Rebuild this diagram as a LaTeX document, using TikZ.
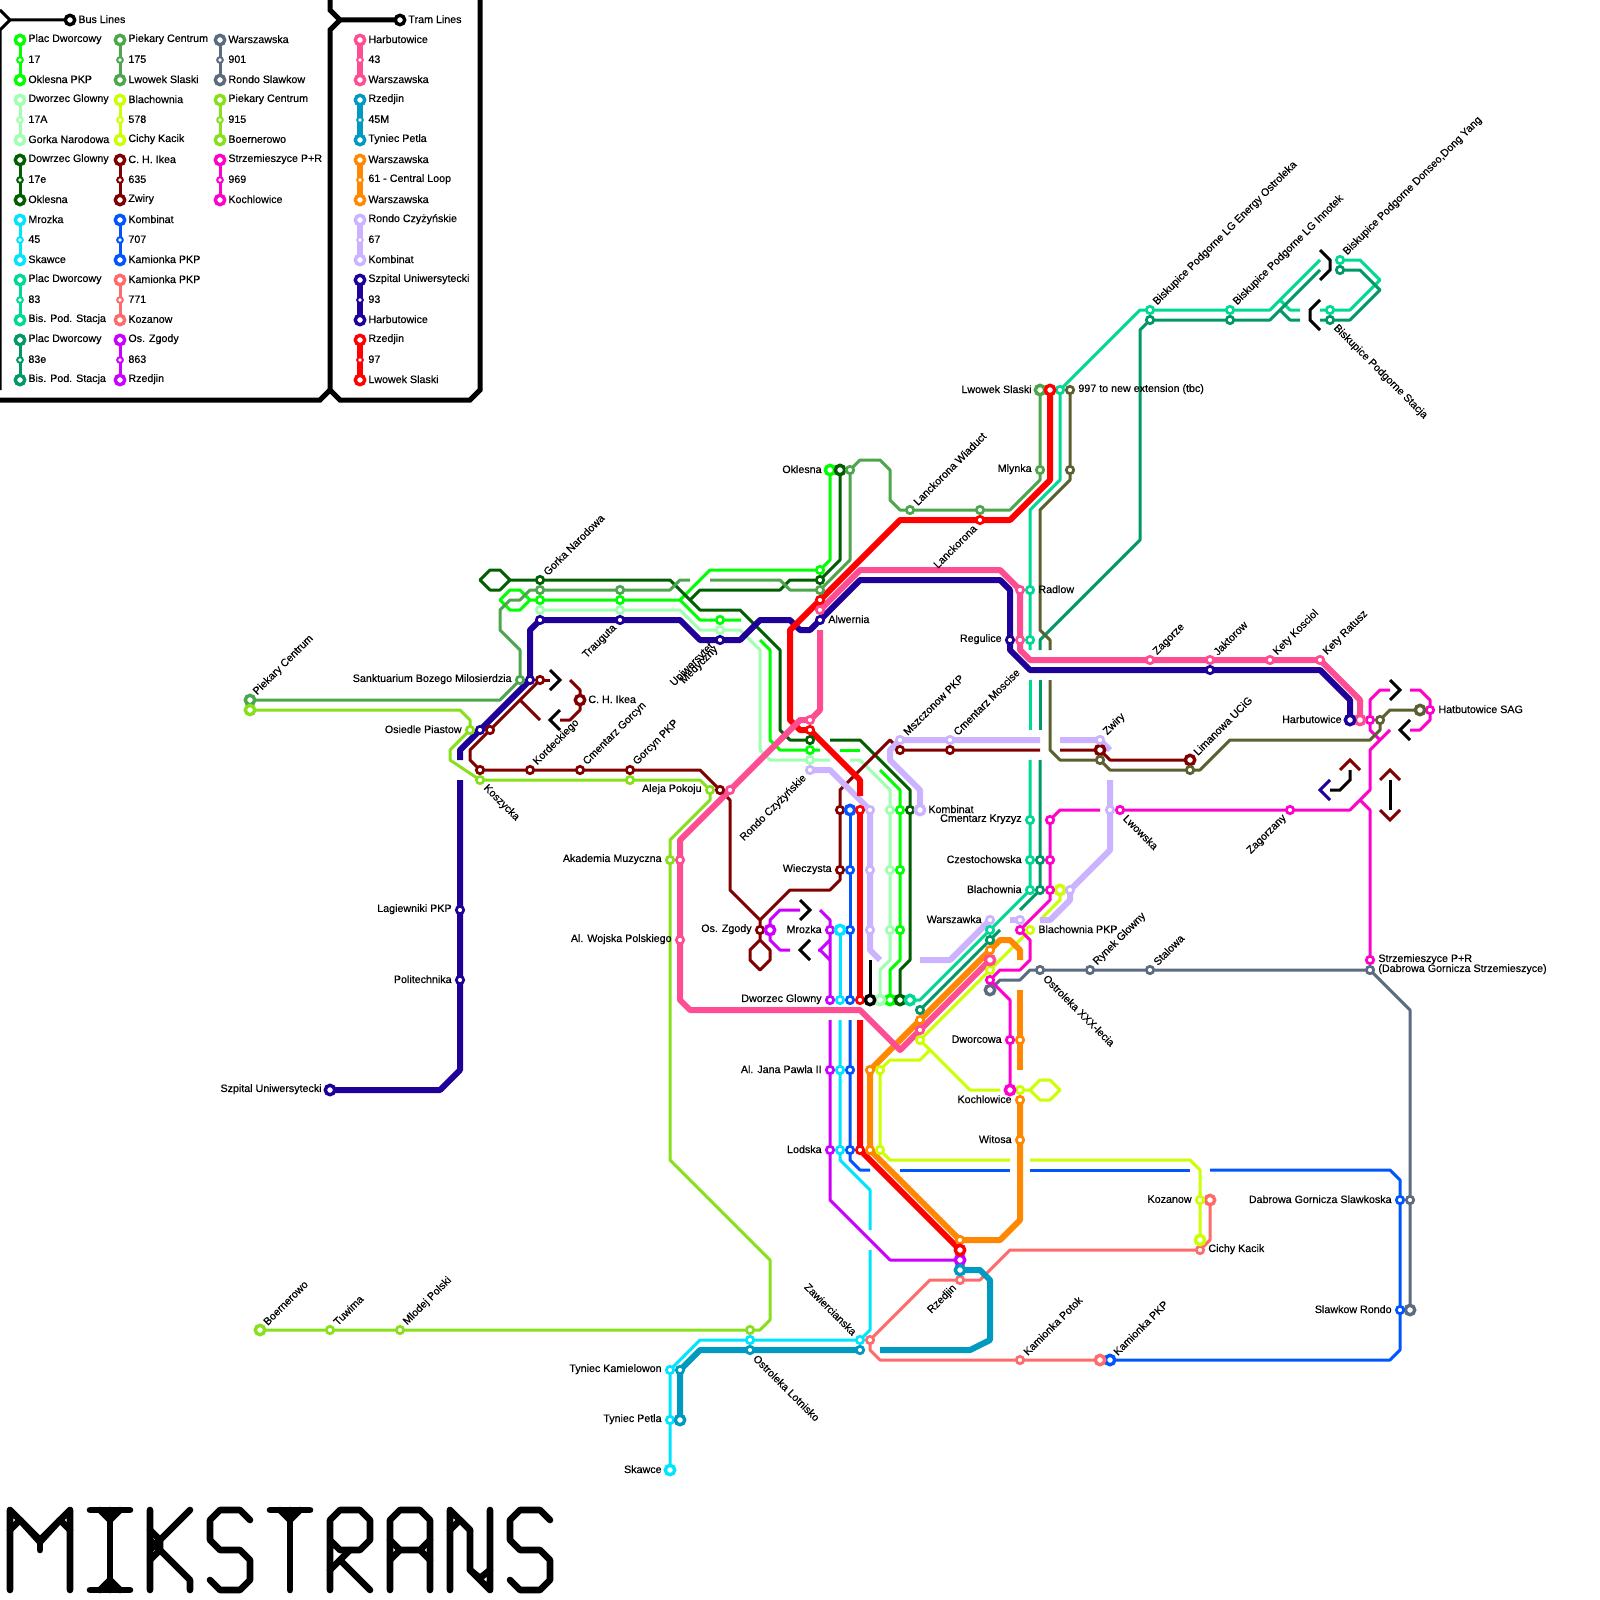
\documentclass[tikz,border=0pt]{standalone}
\usepackage{fontspec}
\newfontface\lbf{Liberation Sans}[FakeBold=0.4]
\pgfdeclarelayer{bg}
\pgfsetlayers{bg,main}
\definecolor{cA}{HTML}{00FF00}
\definecolor{cB}{HTML}{A0FFB0}
\definecolor{cC}{HTML}{006000}
\definecolor{cD}{HTML}{00E5FF}
\definecolor{cE}{HTML}{00D995}
\definecolor{cF}{HTML}{009966}
\definecolor{cG}{HTML}{4CA64C}
\definecolor{cH}{HTML}{CCFF00}
\definecolor{cI}{HTML}{800000}
\definecolor{cJ}{HTML}{0055FF}
\definecolor{cK}{HTML}{FF6B6B}
\definecolor{cL}{HTML}{CC00FF}
\definecolor{cM}{HTML}{5B6B80}
\definecolor{cN}{HTML}{88E01C}
\definecolor{cO}{HTML}{FF00CC}
\definecolor{cP}{HTML}{FF4D94}
\definecolor{cQ}{HTML}{0099BF}
\definecolor{cR}{HTML}{FF8800}
\definecolor{cS}{HTML}{CCB3FF}
\definecolor{cT}{HTML}{1F0099}
\definecolor{cU}{HTML}{FF0000}
\definecolor{cV}{HTML}{5C6030}
\tikzset{
 bus/.style={line width=1.5pt,line join=round},
 tram/.style={line width=3pt,line join=round},
 frame/.style={line width=2.5pt,line join=miter,black},
 chev/.style={line width=1.5pt,line join=miter},
 stn/.style={circle,fill=white,inner sep=0pt,outer sep=0pt,minimum size=3.7pt,line width=1.35pt},
 stb/.style={circle,fill=white,inner sep=0pt,outer sep=0pt,minimum size=4.7pt,line width=1.7pt},
 stl/.style={circle,fill=white,inner sep=0pt,outer sep=0pt,minimum size=2.8pt,line width=1pt},
 lbl/.style={font=\lbf\fontsize{5.35}{5}\selectfont,inner sep=0pt,black},
 le/.style={lbl,anchor=east,xshift=-4pt,yshift=.4pt},
 ri/.style={lbl,anchor=west,xshift=4pt,yshift=.4pt},
 upr/.style={lbl,rotate=45,anchor=west,xshift=4pt,yshift=.5pt},
 dnl/.style={lbl,rotate=45,anchor=east,xshift=-4pt,yshift=-.5pt},
 dnr/.style={lbl,rotate=-45,anchor=west,xshift=4pt,yshift=-.5pt},
 upl/.style={lbl,rotate=-45,anchor=east,xshift=-4pt,yshift=.5pt},
 ttl/.style={line width=3.3pt,line cap=round,line join=round,black},
}
\newcommand{\stA}[3]{\node[stn,draw=#3] (#1) at (#2) {};}
\newcommand{\stB}[3]{\node[stb,draw=#3] (#1) at (#2) {};}
% legend entry: id, x, first-row y, colour, line style, three texts
\newcommand{\lgd}[8]{%
 \pgfmathsetmacro{\ya}{#3}\pgfmathsetmacro{\yb}{#3+20}\pgfmathsetmacro{\yc}{#3+40}%
 \node[stb,draw=#4] (#1a) at (#2,\ya) {};
 \node[stl,draw=#4] (#1b) at (#2,\yb) {};
 \node[stb,draw=#4] (#1c) at (#2,\yc) {};
 \node[ri] (#1x) at (#1a) {#6};
 \node[ri] (#1y) at (#1b) {#7};
 \node[ri] (#1z) at (#1c) {#8};
 \begin{pgfonlayer}{bg}\draw[#5,#4] (#1a) -- (#1b) -- (#1c);\end{pgfonlayer}%
}
\begin{document}
\begin{tikzpicture}[x=0.5pt,y=-0.5pt]
\useasboundingbox (0,0) rectangle (1600,1600);
\begin{pgfonlayer}{bg}
\fill[white] (0,0) rectangle (1600,1600);
\end{pgfonlayer}
% ---------- legend
\node[stb,draw=black] (lbus) at (70,20) {};
\node[ri] (lbust) at (lbus) {Bus Lines};
\node[stb,draw=black] (ltram) at (400,20) {};
\node[ri] (ltramt) at (ltram) {Tram Lines};
\lgd{la}{20}{40}{cA}{bus}{Plac Dworcowy}{17}{Oklesna PKP}
\lgd{lb}{20}{100}{cB}{bus}{Dworzec Glowny}{17A}{Gorka Narodowa}
\lgd{lc}{20}{160}{cC}{bus}{Dowrzec Glowny}{17e}{Oklesna}
\lgd{ld}{20}{220}{cD}{bus}{Mrozka}{45}{Skawce}
\lgd{le}{20}{280}{cE}{bus}{Plac Dworcowy}{83}{Bis. Pod. Stacja}
\lgd{lf}{20}{340}{cF}{bus}{Plac Dworcowy}{83e}{Bis. Pod. Stacja}
\lgd{lg}{120}{40}{cG}{bus}{Piekary Centrum}{175}{Lwowek Slaski}
\lgd{lh}{120}{100}{cH}{bus}{Blachownia}{578}{Cichy Kacik}
\lgd{li}{120}{160}{cI}{bus}{C. H. Ikea}{635}{Zwiry}
\lgd{lj}{120}{220}{cJ}{bus}{Kombinat}{707}{Kamionka PKP}
\lgd{lk}{120}{280}{cK}{bus}{Kamionka PKP}{771}{Kozanow}
\lgd{ll}{120}{340}{cL}{bus}{Os. Zgody}{863}{Rzedjin}
\lgd{lm}{220}{40}{cM}{bus}{Warszawska}{901}{Rondo Slawkow}
\lgd{ln}{220}{100}{cN}{bus}{Piekary Centrum}{915}{Boernerowo}
\lgd{lo}{220}{160}{cO}{bus}{Strzemieszyce P+R}{969}{Kochlowice}
\lgd{lp}{360}{40}{cP}{tram}{Harbutowice}{43}{Warszawska}
\lgd{lq}{360}{100}{cQ}{tram}{Rzedjin}{45M}{Tyniec Petla}
\lgd{lr}{360}{160}{cR}{tram}{Warszawska}{61 - Central Loop}{Warszawska}
\lgd{ls}{360}{220}{cS}{tram}{Rondo Czyżyńskie}{67}{Kombinat}
\lgd{lt}{360}{280}{cT}{tram}{Szpital Uniwersytecki}{93}{Harbutowice}
\lgd{lu}{360}{340}{cU}{tram}{Rzedjin}{97}{Lwowek Slaski}
% ---------- stations, 17
\stB{okl}{830,470}{cA}\stA{ab}{820,570}{cA}\stA{ac}{540,600}{cA}\stA{ad}{620,600}{cA}\stA{ae}{720,620}{cA}
\stA{af}{810,750}{cA}\stA{ag}{900,810}{cA}\stA{ah}{900,870}{cA}\stA{ai}{900,930}{cA}\stB{aj}{890,1000}{cA}
% 17A
\stA{ba}{540,610}{cB}\stA{bb}{620,610}{cB}\stA{bc}{720,630}{cB}\stA{bd}{810,760}{cB}\stA{be}{890,810}{cB}
\stA{bf}{890,870}{cB}\stA{bg}{890,930}{cB}\stB{bh}{880,1000}{cB}
% 17e
\stB{ca}{840,470}{cC}\stA{cb}{820,580}{cC}\stA{cc}{540,580}{cC}\stA{cd}{810,740}{cC}\stA{ce}{910,810}{cC}\stB{cf}{900,1000}{cC}
% 175
\stA{fa}{850,470}{cG}\stA{fb}{820,590}{cG}\stA{fc}{620,590}{cG}\stA{fd}{540,590}{cG}\stA{fe}{520,680}{cG}
\stB{ff}{250,700}{cG}\stA{fg}{910,510}{cG}\stA{fh}{980,510}{cG}\stA{fi}{1040,470}{cG}\stB{fj}{1040,390}{cG}
% 901
\stB{ga}{990,990}{cM}\stA{gb}{1040,970}{cM}\stA{gc}{1090,970}{cM}\stA{gd}{1150,970}{cM}\stA{ge}{1370,970}{cM}\stA{gf}{1410,1200}{cM}\stB{gg}{1410,1310}{cM}
% 915
\stB{ha}{250,710}{cN}\stA{hb}{470,730}{cN}\stA{hc}{480,780}{cN}\stA{hd}{630,780}{cN}\stA{he}{710,790}{cN}\stA{hf}{670,860}{cN}
\stA{hg}{750,1330}{cN}\stA{hh}{400,1330}{cN}\stA{hi}{330,1330}{cN}\stB{hj}{260,1330}{cN}
% 635
\stB{ia}{580,700}{cI}\stA{ib}{540,680}{cI}\stA{ic}{490,730}{cI}\stA{id}{480,770}{cI}\stA{ie}{530,770}{cI}\stA{ig}{580,770}{cI}\stA{ih}{630,770}{cI}
\stA{ii}{720,790}{cI}\stA{ij}{760,930}{cI}\stA{ik}{840,870}{cI}\stA{il}{840,810}{cI}\stA{im}{900,750}{cI}\stA{io}{950,750}{cI}\stB{ip}{1100,750}{cI}\stB{iq}{1190,760}{cI}
% 707
\stB{ja}{850,810}{cJ}\stA{jb}{850,870}{cJ}\stA{jc}{850,930}{cJ}\stA{jd}{850,1000}{cJ}\stA{je}{850,1070}{cJ}\stA{jf}{850,1150}{cJ}
\stA{jg}{1400,1200}{cJ}\stA{jh}{1400,1310}{cJ}\stB{ji}{1110,1360}{cJ}
% 771
\stB{ka}{1210,1200}{cK}\stA{kb}{1200,1250}{cK}\stA{kc}{960,1280}{cK}\stA{kd}{870,1340}{cK}\stA{ke}{1020,1360}{cK}\stB{kf}{1100,1360}{cK}
% 863
\stB{la}{770,930}{cL}\stA{lb}{830,930}{cL}\stA{lc}{830,1000}{cL}\stA{ld}{830,1070}{cL}\stA{lee}{830,1150}{cL}\stB{lff}{960,1260}{cL}
% 45
\stB{da}{840,930}{cD}\stA{db}{840,1000}{cD}\stA{dc}{840,1070}{cD}\stA{dd}{840,1150}{cD}\stA{de}{860,1340}{cD}\stA{df}{750,1340}{cD}
\stA{dg}{670,1370}{cD}\stA{dh}{670,1420}{cD}\stB{di}{670,1470}{cD}
% 45M
\stB{qa}{960,1270}{cQ}\stA{qb}{860,1350}{cQ}\stA{qc}{750,1350}{cQ}\stA{qd}{680,1370}{cQ}\stB{qe}{680,1420}{cQ}
% 83
\stB{ea}{910,1000}{cE}\stA{eb}{990,930}{cE}\stA{ec}{1030,890}{cE}\stA{ed}{1030,860}{cE}\stA{ee}{1030,820}{cE}\stA{ef}{1030,640}{cE}\stA{eg}{1030,590}{cE}
\stA{eh}{1060,390}{cE}\stA{ei}{1150,310}{cE}\stA{ej}{1230,310}{cE}\stA{ek}{1340,260}{cE}\stA{el}{1330,310}{cE}
% 83e
\stA{ma}{920,1010}{cF}\stA{mb}{990,940}{cF}\stA{mc}{1040,890}{cF}\stA{md}{1040,860}{cF}\stA{me}{1150,320}{cF}\stA{mf}{1230,320}{cF}\stA{mg}{1340,270}{cF}\stA{mh}{1330,320}{cF}
% 578
\stB{na}{1060,890}{cH}\stA{nb}{1030,930}{cH}\stA{nc}{990,970}{cH}\stA{nd}{920,1040}{cH}\stA{ne}{880,1070}{cH}\stA{nf}{880,1150}{cH}
\stA{ng}{1200,1200}{cH}\stB{nh}{1200,1240}{cH}\stA{ni}{1020,1090}{cH}
% 969
\stA{oa}{1370,960}{cO}\stA{ob}{1290,810}{cO}\stA{oc}{1120,810}{cO}\stA{od}{1050,820}{cO}\stA{oe}{1050,860}{cO}\stA{of}{1050,890}{cO}
\stA{og}{1020,930}{cO}\stA{oh}{990,980}{cO}\stA{oi}{1010,1040}{cO}\stB{oj}{1010,1090}{cO}\stA{ok}{1370,720}{cO}\stA{ol}{1430,710}{cO}
% 997
\stB{va}{1420,710}{cV}\stA{vb}{1380,720}{cV}\stA{vc}{1190,770}{cV}\stA{vd}{1100,760}{cV}\stA{ve}{1070,470}{cV}\stA{vf}{1070,390}{cV}
% 43
\stB{pa}{1360,720}{cP}\stA{pb}{1320,660}{cP}\stA{pc}{1270,660}{cP}\stA{pd}{1210,660}{cP}\stA{pe}{1150,660}{cP}\stA{pf}{1020,640}{cP}\stA{pg}{1020,590}{cP}
\stA{ph}{820,610}{cP}\stA{pi}{810,720}{cP}\stA{pj}{730,790}{cP}\stA{pk}{680,860}{cP}\stA{pl}{680,940}{cP}\stA{pm}{920,1030}{cP}\stB{pn}{990,960}{cP}
% 61
\stA{ra}{990,950}{cR}\stA{rb}{920,1020}{cR}\stA{rc}{870,1070}{cR}\stA{rd}{870,1150}{cR}\stA{re}{960,1240}{cR}\stA{rf}{1020,1140}{cR}\stA{rg}{1020,1100}{cR}\stA{rh}{1020,1040}{cR}
% 67
\stA{sa}{810,770}{cS}\stA{sb}{870,810}{cS}\stA{sc}{870,870}{cS}\stA{sd}{870,930}{cS}\stA{se}{990,920}{cS}\stA{sf}{1020,920}{cS}\stA{sg}{1070,890}{cS}
\stA{sh}{1110,810}{cS}\stA{si}{1100,740}{cS}\stA{sj}{950,740}{cS}\stA{sk}{900,740}{cS}\stB{sl}{920,810}{cS}
% 93
\stB{ta}{1350,720}{cT}\stA{tb}{1210,670}{cT}\stA{tc}{1010,640}{cT}\stA{td}{820,620}{cT}\stA{te}{720,640}{cT}\stA{tf}{620,620}{cT}\stA{tg}{540,620}{cT}
\stA{th}{530,680}{cT}\stA{ti}{480,730}{cT}\stA{tj}{460,910}{cT}\stA{tk}{460,980}{cT}\stB{tl}{330,1090}{cT}
% 97
\stB{ua}{1050,390}{cU}\stA{ub}{980,520}{cU}\stA{uc}{820,600}{cU}\stA{ud}{810,730}{cU}\stA{ue}{860,810}{cU}\stA{uf}{860,1000}{cU}\stA{ug}{860,1150}{cU}\stB{uh}{960,1250}{cU}
% black stub terminus
\stB{za}{870,1000}{black}
% ---------- labels
\node[le] (t01) at (okl) {Oklesna};
\node[le] (t02) at (fj) {Lwowek Slaski};
\node[le] (t03) at (fi) {Mlynka};
\node[le] (t04) at (tc) {Regulice};
\node[le] (t05) at (fe) {Sanktuarium Bozego Milosierdzia};
\node[le] (t06) at (hb) {Osiedle Piastow};
\node[le] (t07) at (he) {Aleja Pokoju};
\node[le] (t08) at (hf) {Akademia Muzyczna};
\node[le] (t09) at (pl) {Al. Wojska Polskiego};
\node[le] (t10) at (tj) {Lagiewniki PKP};
\node[le] (t11) at (tk) {Politechnika};
\node[le] (t12) at (tl) {Szpital Uniwersytecki};
\node[le] (t13) at (lc) {Dworzec Glowny};
\node[le] (t14) at (ij) {Os. Zgody};
\node[le] (t15) at (ik) {Wieczysta};
\node[le] (t16) at (lb) {Mrozka};
\node[le] (t17) at (ld) {Al. Jana Pawla II};
\node[le] (t18) at (lee) {Lodska};
\node[le] (t19) at (oi) {Dworcowa};
\node[le] (t20) at (rg) {Kochlowice};
\node[le] (t21) at (rf) {Witosa};
\node[le] (t22) at (se) {Warszawka};
\node[le] (t23) at (ec) {Blachownia};
\node[le] (t24) at (ed) {Czestochowska};
\node[le] (t25) at (ee) {Cmentarz Kryzyz};
\node[le] (t26) at (ta) {Harbutowice};
\node[le] (t27) at (ng) {Kozanow};
\node[le] (t28) at (jg) {Dabrowa Gornicza Slawkoska};
\node[le] (t29) at (jh) {Slawkow Rondo};
\node[le] (t30) at (dg) {Tyniec Kamielowon};
\node[le] (t31) at (dh) {Tyniec Petla};
\node[le] (t32) at (di) {Skawce};
\node[ri] (t33) at (eg) {Radlow};
\node[ri] (t34) at (td) {Alwernia};
\node[ri] (t35) at (ia) {C. H. Ikea};
\node[ri] (t36) at (sl) {Kombinat};
\node[ri] (t37) at (nb) {Blachownia PKP};
\node[ri] (t38) at (vf) {997 to new extension (tbc)};
\node[ri] (t39) at (ol) {Hatbutowice SAG};
\node[ri,align=left,yshift=-2.5pt] (t40) at (oa) {Strzemieszyce P+R\\(Dabrowa Gornicza Strzemieszyce)};
\node[ri] (t41) at (kb) {Cichy Kacik};
\node[upr] (t42) at (ff) {Piekary Centrum};
\node[upr] (t43) at (cc) {Gorka Narodowa};
\node[upr] (t44) at (fg) {Lanckorona Wiaduct};
\node[upr] (t45) at (ei) {Biskupice Podgorne LG Energy Ostroleka};
\node[upr] (t46) at (ej) {Biskupice Podgorne LG Innotek};
\node[upr] (t47) at (ek) {Biskupice Podgorne Donseo,Dong Yang};
\node[upr] (t48) at (pe) {Zagorze};
\node[upr] (t49) at (pd) {Jaktorow};
\node[upr] (t50) at (pc) {Kety Kosciol};
\node[upr] (t51) at (pb) {Kety Ratusz};
\node[upr] (t52) at (iq) {Limanowa UCiG};
\node[upr] (t53) at (si) {Zwiry};
\node[upr] (t54) at (sk) {Mszczonow PKP};
\node[upr] (t55) at (sj) {Cmentarz Moscise};
\node[upr] (t56) at (ie) {Kordeckiego};
\node[upr] (t57) at (ig) {Cmentarz Gorcyn};
\node[upr] (t58) at (ih) {Gorcyn PKP};
\node[upr] (t59) at (gc) {Rynek Glowny};
\node[upr] (t60) at (gd) {Stalowa};
\node[upr] (t61) at (ke) {Kamionka Potok};
\node[upr] (t62) at (ji) {Kamionka PKP};
\node[upr] (t63) at (hj) {Boernerowo};
\node[upr] (t64) at (hi) {Tuwima};
\node[upr] (t65) at (hh) {Mlodej Polski};
\node[dnl] (t66) at (tf) {Trauguta};
\node[dnl,xshift=-.5pt,yshift=1.6pt] (t67) at (te) {Uniwersytet};
\node[dnl,yshift=-1pt] (t68) at (te) {Medyczny};
\node[dnl] (t69) at (ub) {Lanckorona};
\node[dnl] (t70) at (sa) {Rondo Czyżyńskie};
\node[dnl] (t71) at (ob) {Zagorzany};
\node[dnl] (t72) at (kc) {Rzedjin};
\node[dnr] (t73) at (hc) {Koszycka};
\node[dnr] (t74) at (gb) {Ostroleka XXX-lecia};
\node[dnr] (t75) at (oc) {Lwowska};
\node[dnr] (t76) at (mh) {Biskupice Podgorne Stacja};
\node[dnr] (t77) at (qc) {Ostroleka Lotnisko};
\node[upl] (t78) at (de) {Zawiercianska};
% ---------- lines
\begin{pgfonlayer}{bg}
% legend frame
\draw[line width=1.5pt,black] (0,10) -- (10,20) -- (lbus);
\draw[line width=1.5pt,black] (10,20) -- (0,30) -- (0,390);
\draw[frame] (0,400) -- (320,400) -- (330,390);
\draw[frame] (330,0) -- (330,10) -- (340,20) -- (ltram);
\draw[frame] (340,20) -- (330,30) -- (330,390) -- (340,400) -- (470,400) -- (480,390) -- (480,0);
% 17
\draw[bus,cA] (okl) -- (830,560) -- (ab) -- (710,570) -- (680,600) -- (ad) -- (ac) -- (530,600) -- (520,610) -- (510,610) -- (500,600) -- (510,590) -- (520,590) -- (530,600);
\draw[bus,cA] (680,600) -- (700,620) -- (ae) -- (741,620);
\draw[bus,cA] (760,640) -- (770,650) -- (770,740) -- (780,750) -- (af) -- (820,750);
\draw[bus,cA] (840,750) -- (860,750);
\draw[bus,cA] (880,770) -- (900,790) -- (ag) -- (ah) -- (ai) -- (900,960) -- (890,970) -- (aj);
% 17A
\draw[bus,cB] (ba) -- (bb) -- (680,610) -- (700,630) -- (bc) -- (740,630) -- (760,650) -- (760,750) -- (770,760) -- (bd) -- (830,760);
\draw[bus,cB] (850,760) -- (860,760) -- (890,790) -- (be) -- (bf) -- (bg) -- (890,960) -- (880,970) -- (bh);
% 17e
\draw[bus,cC] (ca) -- (840,560) -- (cb) -- (790,580) -- (780,590) -- (700,590) -- (690,600);
\draw[bus,cC] (cc) -- (510,580) -- (500,570) -- (490,570) -- (480,580) -- (490,590) -- (500,590) -- (510,580);
\draw[bus,cC] (cc) -- (670,580) -- (700,610) -- (740,610) -- (780,650) -- (780,730) -- (790,740) -- (cd);
\draw[bus,cC] (830,740) -- (860,740) -- (910,790) -- (ce) -- (910,960) -- (900,970) -- (cf);
% 175
\draw[bus,cG] (fa) -- (850,560) -- (fb) -- (790,590) -- (780,580) -- (710,580);
\draw[bus,cG] (690,580) -- (680,580) -- (670,590) -- (fc) -- (fd) -- (530,590) -- (520,600) -- (510,600) -- (500,610) -- (500,630) -- (520,650) -- (fe) -- (500,700) -- (ff);
\draw[bus,cG] (fa) -- (860,460) -- (880,460) -- (890,470) -- (890,500) -- (900,510) -- (fg) -- (fh) -- (1010,510) -- (1040,480) -- (fi) -- (fj);
% 901
\draw[bus,cM] (ga) -- (1000,980) -- (1020,980) -- (1030,970) -- (gb) -- (gc) -- (gd) -- (ge) -- (1410,1010) -- (gf) -- (gg);
% 915
\draw[bus,cN] (ha) -- (460,710) -- (470,720) -- (hb) -- (450,750) -- (450,760) -- (hc) -- (hd) -- (700,780) -- (he) -- (710,800) -- (670,840) -- (hf) -- (670,1160) -- (770,1260) -- (770,1320) -- (760,1330) -- (hg) -- (hh) -- (hi) -- (hj);
% 635
\draw[bus,cI] (ia) -- (580,690) -- (570,680);
\draw[bus,cI] (ia) -- (580,710) -- (570,720) -- (560,720);
\draw[bus,cI] (ib) -- (550,680);
\draw[bus,cI] (520,700) -- (540,720);
\draw[bus,cI] (ib) -- (ic) -- (470,750) -- (470,760) -- (id) -- (ie) -- (ig) -- (ih) -- (700,770) -- (ii) -- (730,800) -- (730,890) -- (760,920) -- (ij) -- (760,940) -- (750,950) -- (750,960) -- (760,970) -- (770,960) -- (770,950) -- (760,940);
\draw[bus,cI] (760,920) -- (790,890) -- (830,890) -- (840,880) -- (ik) -- (il) -- (840,790) -- (890,740) -- (im) -- (io) -- (1040,750);
\draw[bus,cI] (1060,750) -- (ip) -- (1110,760) -- (iq);
% 707
\draw[bus,cJ] (ja) -- (jb) -- (jc) -- (jd);
\draw[bus,cJ] (850,1020) -- (je) -- (jf) -- (850,1160) -- (860,1170) -- (870,1170);
\draw[bus,cJ] (900,1170) -- (1010,1170);
\draw[bus,cJ] (1030,1170) -- (1190,1170);
\draw[bus,cJ] (1210,1170) -- (1390,1170) -- (1400,1180) -- (jg) -- (jh) -- (1400,1350) -- (1390,1360) -- (ji);
% 771
\draw[bus,cK] (ka) -- (1210,1240) -- (kb) -- (1010,1250) -- (980,1280) -- (kc) -- (930,1280) -- (kd) -- (870,1350) -- (880,1360) -- (ke) -- (kf);
% 863
\draw[bus,cL] (la) -- (770,920) -- (780,910) -- (800,910);
\draw[bus,cL] (la) -- (770,940) -- (780,950) -- (790,950);
\draw[bus,cL] (820,910) -- (830,920) -- (lb) -- (lc);
\draw[bus,cL] (818,950) -- (820,950) -- (830,940);
\draw[bus,cL] (820,950) -- (830,960);
\draw[bus,cL] (830,1020) -- (ld) -- (lee) -- (830,1200) -- (890,1260) -- (lff);
% 45
\draw[bus,cD] (da) -- (db);
\draw[bus,cD] (840,1020) -- (dc) -- (dd) -- (840,1160) -- (870,1190) -- (870,1230);
\draw[bus,cD] (870,1250) -- (870,1330) -- (de) -- (df) -- (700,1340) -- (dg) -- (dh) -- (di);
% 83
\draw[bus,cE] (ea) -- (920,1000) -- (eb) -- (ec) -- (ed) -- (ee) -- (1030,760);
\draw[bus,cE] (1030,730) -- (1030,680);
\draw[bus,cE] (1030,650) -- (ef) -- (eg) -- (1030,510) -- (1060,480) -- (eh) -- (1140,310) -- (ei) -- (ej) -- (1270,310) -- (1320,260);
\draw[bus,cE] (ek) -- (1360,260) -- (1380,280) -- (1350,310) -- (el) -- (1320,310);
\draw[bus,cE] (1300,310) -- (1290,310) -- (1280,300);
% 83e
\draw[bus,cF] (ma) -- (mb) -- (1000,930);
\draw[bus,cF] (1020,910) -- (mc) -- (md) -- (1040,760);
\draw[bus,cF] (1040,730) -- (1040,680);
\draw[bus,cF] (1040,650) -- (1040,640) -- (1140,540) -- (1140,330) -- (me) -- (mf) -- (1270,320) -- (1320,270);
\draw[bus,cF] (mg) -- (1360,270) -- (1380,290) -- (1350,320) -- (mh) -- (1320,320);
\draw[bus,cF] (1300,320) -- (1290,320) -- (1280,310);
% 578
\draw[bus,cH] (na) -- (1060,900) -- (1040,920);
\draw[bus,cH] (nb) -- (nc) -- (nd) -- (930,1050) -- (920,1060) -- (890,1060) -- (ne) -- (nf) -- (890,1160) -- (1010,1160);
\draw[bus,cH] (1030,1160) -- (1190,1160) -- (1200,1170) -- (ng) -- (nh);
\draw[bus,cH] (930,1050) -- (970,1090) -- (1000,1090);
\draw[bus,cH] (ni) -- (1030,1090) -- (1040,1080) -- (1050,1080) -- (1060,1090) -- (1050,1100) -- (1040,1100) -- (1030,1090);
% 969
\draw[bus,cO] (oa) -- (1370,810) -- (1360,800);
\draw[bus,cO] (1390,730) -- (1370,750) -- (1370,790) -- (1350,810) -- (ob) -- (oc);
\draw[bus,cO] (1100,810) -- (1060,810) -- (od) -- (oe) -- (of) -- (1050,900) -- (og) -- (1030,940) -- (1030,960) -- (1020,970) -- (1000,970) -- (oh) -- (1010,1000) -- (oi) -- (oj);
\draw[bus,cO] (1380,740) -- (1370,730) -- (ok) -- (1370,700) -- (1380,690) -- (1390,690);
\draw[bus,cO] (1410,690) -- (1420,690) -- (1430,700) -- (ol) -- (1430,720) -- (1420,730) -- (1410,730);
% 997
\draw[bus,cV] (va) -- (1390,710) -- (vb) -- (1380,730) -- (1370,740) -- (1230,740) -- (1200,770) -- (vc) -- (1110,770) -- (vd) -- (1060,760) -- (1050,750) -- (1050,680);
\draw[bus,cV] (1050,650) -- (1050,640) -- (1040,630) -- (1040,510) -- (1070,480) -- (ve) -- (vf);
% black stub
\draw[bus,black] (za) -- (870,960);
% 45M
\draw[tram,cQ] (qa) -- (980,1270) -- (990,1280) -- (990,1340) -- (970,1350) -- (880,1350);
\draw[tram,cQ] (qb) -- (qc) -- (700,1350) -- (qd) -- (qe);
% 61
\draw[tram,cR] (ra) -- (1000,940) -- (1010,940) -- (1020,950) -- (1020,960);
\draw[tram,cR] (1020,990) -- (rh) -- (1020,1070);
\draw[tram,cR] (rg) -- (rf) -- (1020,1220) -- (1000,1240) -- (re) -- (rd) -- (rc) -- (rb) -- (ra);
% 67
\draw[tram,cS] (sa) -- (830,770) -- (sb) -- (sc) -- (sd) -- (870,950) -- (880,960);
\draw[tram,cS] (920,960) -- (950,960) -- (se);
\draw[tram,cS] (1010,920) -- (sf);
\draw[tram,cS] (1040,920) -- (1050,920) -- (1070,900) -- (sg) -- (1110,850) -- (sh) -- (1110,780);
\draw[tram,cS] (1110,750) -- (si) -- (1060,740);
\draw[tram,cS] (1040,740) -- (sj) -- (sk) -- (890,750) -- (890,760) -- (920,790) -- (sl);
% 93
\draw[tram,cT] (ta) -- (1350,700) -- (1320,670) -- (tb) -- (1030,670) -- (1010,650) -- (tc) -- (1010,590) -- (1000,580) -- (860,580) -- (td) -- (810,630) -- (800,630) -- (790,620) -- (760,620) -- (740,640) -- (te) -- (700,640) -- (680,620) -- (tf) -- (tg) -- (530,630) -- (th) -- (ti) -- (460,750) -- (460,760);
\draw[tram,cT] (460,780) -- (tj) -- (tk) -- (460,1070) -- (440,1090) -- (tl);
% 97
\draw[tram,cU] (ua) -- (1050,480) -- (1010,520) -- (ub) -- (900,520) -- (uc) -- (790,630) -- (790,720) -- (800,730) -- (ud) -- (860,780) -- (860,796);
\draw[tram,cU] (ue) -- (uf);
\draw[tram,cU] (860,1020) -- (ug) -- (uh);
% 43
\draw[tram,cP] (pa) -- (1360,700) -- (pb) -- (pc) -- (pd) -- (pe) -- (1030,660) -- (1020,650) -- (pf) -- (pg) -- (1000,570) -- (860,570) -- (ph);
\draw[tram,cP] (820,630) -- (820,710) -- (pi) -- (800,720) -- (pj) -- (680,840) -- (pk) -- (pl) -- (680,1000) -- (690,1010) -- (860,1010) -- (900,1050) -- (pm) -- (pn);
% chevrons
\draw[chev,black] (550,670) -- (560,680) -- (550,690);
\draw[chev,black] (560,710) -- (550,720) -- (560,730);
\draw[chev,black] (800,900) -- (810,910) -- (800,920);
\draw[chev,black] (810,940) -- (800,950) -- (810,960);
\draw[chev,black] (1320,250) -- (1330,260) -- (1330,270) -- (1320,280);
\draw[chev,black] (1320,300) -- (1310,310) -- (1310,320) -- (1320,330);
\draw[chev,black] (1390,680) -- (1400,690) -- (1390,700);
\draw[chev,black] (1410,720) -- (1400,730) -- (1410,740);
\draw[chev,cI] (1340,770) -- (1350,760) -- (1360,770);
\draw[chev,black] (1350,770) -- (1350,780) -- (1340,790) -- (1330,790);
\draw[chev,cT] (1330,780) -- (1320,790) -- (1330,800);
\draw[chev,cI] (1380,780) -- (1390,770) -- (1400,780);
\draw[chev,black] (1390,780) -- (1390,810);
\draw[chev,cI] (1380,810) -- (1390,820) -- (1400,810);
\end{pgfonlayer}
% ---------- title, drawn as strokes like the map's lines
\draw[ttl] (10,1590) -- (10,1510) -- (40,1540) -- (70,1510) -- (70,1590);
\draw[ttl] (10,1530) -- (20,1520) -- (40,1542) -- (60,1520) -- (70,1530);
\draw[ttl] (40,1540) -- (40,1550);
\draw[ttl] (90,1510) -- (130,1510) (90,1590) -- (130,1590) (110,1510) -- (110,1590);
\draw[ttl] (100,1510) -- (110,1520) -- (120,1510) (100,1590) -- (110,1580) -- (120,1590);
\draw[ttl] (150,1510) -- (150,1590) (190,1510) -- (150,1550) (150,1540) -- (190,1580) -- (190,1590);
\draw[ttl] (150,1530) -- (160,1540) -- (160,1550) -- (150,1560);
\draw[ttl] (250,1520) -- (240,1510) -- (220,1510) -- (210,1520) -- (210,1540) -- (220,1550) -- (240,1550) -- (250,1560) -- (250,1580) -- (240,1590) -- (220,1590) -- (210,1580);
\draw[ttl] (270,1510) -- (310,1510) (290,1510) -- (290,1590);
\draw[ttl] (280,1510) -- (290,1520) -- (300,1510);
\draw[ttl] (330,1590) -- (330,1520) -- (340,1510) -- (360,1510) -- (370,1520) -- (370,1540) -- (360,1550) -- (340,1550) -- (330,1540);
\draw[ttl] (340,1560) -- (370,1590) (330,1570) -- (350,1550);
\draw[ttl] (390,1590) -- (390,1520) -- (400,1510) -- (420,1510) -- (430,1520) -- (430,1590);
\draw[ttl] (390,1540) -- (400,1550) -- (420,1550) -- (430,1540);
\draw[ttl] (390,1560) -- (400,1550) (420,1550) -- (430,1560);
\draw[ttl] (450,1590) -- (450,1510) -- (470,1530) -- (470,1570) -- (490,1590) -- (490,1510);
\draw[ttl] (450,1530) -- (460,1520) -- (470,1530) (470,1570) -- (480,1578) -- (490,1570);
\draw[ttl] (550,1520) -- (540,1510) -- (520,1510) -- (510,1520) -- (510,1540) -- (520,1550) -- (540,1550) -- (550,1560) -- (550,1580) -- (540,1590) -- (520,1590) -- (510,1580);
\node[opacity=0,font=\lbf\fontsize{40}{40}\selectfont,anchor=west,inner sep=0pt] (title) at (5,1550) {MIKSTRANS};
\end{tikzpicture}
\end{document}
